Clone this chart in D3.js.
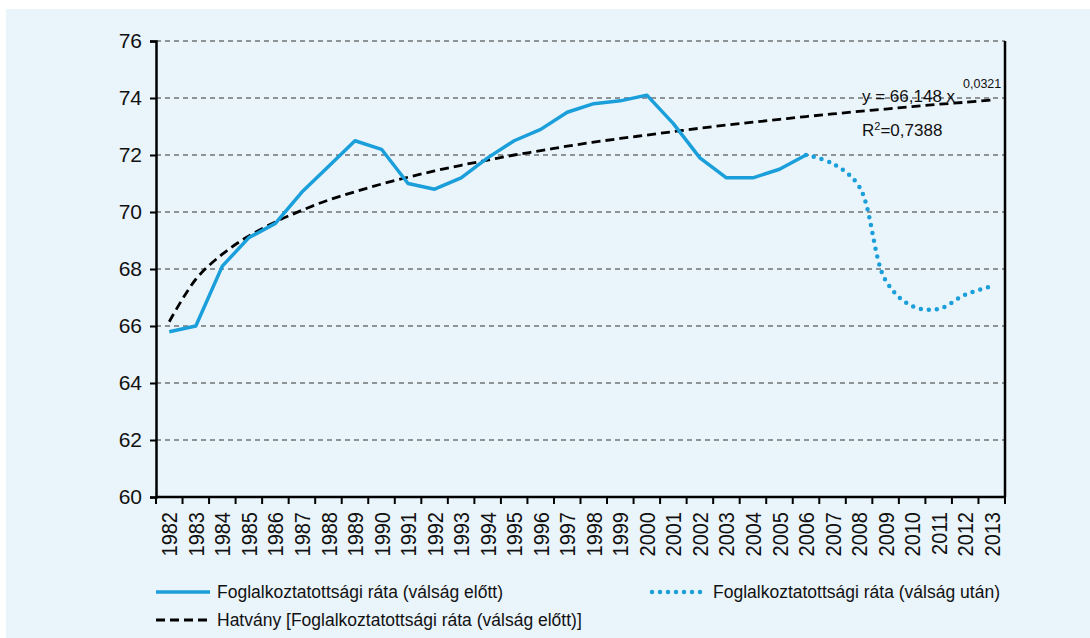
<!DOCTYPE html>
<html>
<head>
<meta charset="utf-8">
<script src="https://cdn.jsdelivr.net/npm/d3@7"></script>
<style>
  body { margin: 0; background: #ffffff; }
  text { font-family: "Liberation Sans", Arial, sans-serif; fill: #111; }
</style>
</head>
<body>
<div id="chart"></div>
<script>
const years = d3.range(1982, 2014).map(String);

// foglalkoztatottsági ráta, válság előtt (1982-2006)
const before = [65.8, 66.0, 68.1, 69.1, 69.6, 70.7, 71.6, 72.5, 72.2, 71.0,
  70.8, 71.2, 71.9, 72.5, 72.9, 73.5, 73.8, 73.9, 74.1, 73.1,
  71.9, 71.2, 71.2, 71.5, 72.0];
// válság után (2006-2013)
const afterYears = ["2006", "2007", "2008", "2009", "2010", "2011", "2012", "2013"];
const after = [72.0, 71.7, 70.9, 67.6, 66.7, 66.6, 67.1, 67.4];
// hatvány trendvonal, leolvasva
const trend = [66.15, 67.64, 68.52, 69.16, 69.65, 70.06, 70.42, 70.71, 70.98, 71.22,
  71.44, 71.64, 71.82, 72.0, 72.15, 72.31, 72.45, 72.58, 72.7, 72.82,
  72.94, 73.05, 73.15, 73.25, 73.35, 73.44, 73.53, 73.61, 73.7, 73.78,
  73.85, 73.93];
const yTicks = [60, 62, 64, 66, 68, 70, 72, 74, 76];

const width = 1090, height = 638;
const blue = "#1a9fdb";

const svg = d3.select("#chart")
  .append("svg")
  .attr("width", width)
  .attr("height", height);

svg.append("rect")
  .attr("x", 6).attr("y", 9)
  .attr("width", width - 6).attr("height", height - 9)
  .attr("fill", "#eaf4fb");

const m = { left: 156, right: 1005, top: 41, bottom: 497 };

const x = d3.scaleBand().domain(years).range([m.left, m.right]);
const y = d3.scaleLinear().domain([60, 76]).range([m.bottom, m.top]);
const cx = (d) => x(d) + x.bandwidth() / 2;

// grid
svg.selectAll(".grid")
  .data(yTicks.filter((d) => d > 60))
  .join("line")
  .attr("class", "grid")
  .attr("x1", m.left).attr("x2", m.right)
  .attr("y1", (d) => y(d)).attr("y2", (d) => y(d))
  .attr("stroke", "#333")
  .attr("stroke-width", 1)
  .attr("stroke-dasharray", "5,4");

// y axis
const yAxis = svg.append("g")
  .attr("transform", `translate(${m.left},0)`)
  .call(d3.axisLeft(y).tickValues(yTicks).tickSize(6).tickPadding(8));
yAxis.select(".domain").attr("stroke", "#000").attr("stroke-width", 2.5);
yAxis.selectAll(".tick line").attr("stroke", "#000").attr("stroke-width", 2);
yAxis.selectAll(".tick text")
  .attr("font-size", 21)
  .attr("font-family", "Liberation Sans, Arial, sans-serif")
  .attr("fill", "#111");

// right border
svg.append("line")
  .attr("x1", m.right).attr("x2", m.right)
  .attr("y1", m.top).attr("y2", m.bottom)
  .attr("stroke", "#000").attr("stroke-width", 2.5);

// x axis, ticks on category boundaries
const xAxis = svg.append("g")
  .attr("transform", `translate(0,${m.bottom})`);
xAxis.append("line")
  .attr("x1", m.left).attr("x2", m.right)
  .attr("stroke", "#000").attr("stroke-width", 2.5);
xAxis.selectAll(".xt")
  .data(years.concat(["end"]))
  .join("line")
  .attr("class", "xt")
  .attr("x1", (d, i) => m.left + i * x.bandwidth())
  .attr("x2", (d, i) => m.left + i * x.bandwidth())
  .attr("y1", 0).attr("y2", 7)
  .attr("stroke", "#000").attr("stroke-width", 2);
xAxis.selectAll(".xl")
  .data(years)
  .join("text")
  .attr("class", "xl")
  .attr("transform", (d) => `translate(${cx(d)},15) rotate(-90) scale(1,1.12)`)
  .attr("text-anchor", "end")
  .attr("dy", "0.36em")
  .attr("font-size", 20)
  .text((d) => d);

// trend line
const trendLine = d3.line()
  .x((d, i) => cx(years[i]))
  .y((d) => y(d))
  .curve(d3.curveCatmullRom);
svg.append("path")
  .datum(trend)
  .attr("d", trendLine)
  .attr("fill", "none")
  .attr("stroke", "#000")
  .attr("stroke-width", 2.8)
  .attr("stroke-dasharray", "9,5");

// before crisis
svg.append("path")
  .datum(before)
  .attr("d", d3.line().x((d, i) => cx(years[i])).y((d) => y(d)))
  .attr("fill", "none")
  .attr("stroke", blue)
  .attr("stroke-width", 3.5)
  .attr("stroke-linejoin", "round");

// after crisis (smoothed, dotted)
svg.append("path")
  .datum(after)
  .attr("d", d3.line().x((d, i) => cx(afterYears[i])).y((d) => y(d)).curve(d3.curveCatmullRom))
  .attr("fill", "none")
  .attr("stroke", blue)
  .attr("stroke-width", 4.5)
  .attr("stroke-linecap", "round")
  .attr("stroke-dasharray", "0,8");

// equation
svg.append("text").attr("x", 862).attr("y", 102).attr("font-size", 17).text("y = 66,148 x");
svg.append("text").attr("x", 963).attr("y", 88).attr("font-size", 12.5).text("0,0321");
const r2 = svg.append("text").attr("x", 862).attr("y", 136).attr("font-size", 17);
r2.append("tspan").text("R");
r2.append("tspan").attr("font-size", 11).attr("dy", -6).text("2");
r2.append("tspan").attr("dy", 6).text("=0,7388");

// legend
const legend = [
  { label: "Foglalkoztatottsági ráta (válság előtt)", x: 156, y: 592, type: "solid" },
  { label: "Foglalkoztatottsági ráta (válság után)", x: 652, y: 592, type: "dot" },
  { label: "Hatvány [Foglalkoztatottsági ráta (válság előtt)]", x: 156, y: 620, type: "dash" },
];
const lg = svg.selectAll(".legend")
  .data(legend)
  .join("g")
  .attr("class", "legend")
  .attr("transform", (d) => `translate(${d.x},${d.y})`);
lg.append("line")
  .attr("x1", 0).attr("x2", (d) => d.type === "dot" ? 52 : 54)
  .attr("stroke", (d) => d.type === "dash" ? "#000" : blue)
  .attr("stroke-width", (d) => d.type === "dot" ? 4.5 : d.type === "dash" ? 2.8 : 3.5)
  .attr("stroke-linecap", (d) => d.type === "dot" ? "round" : "butt")
  .attr("stroke-dasharray", (d) => d.type === "dot" ? "0,8" : d.type === "dash" ? "9,5" : null);
lg.append("text")
  .attr("x", 61)
  .attr("dy", "0.36em")
  .attr("font-size", 17.5)
  .text((d) => d.label);
</script>
</body>
</html>
